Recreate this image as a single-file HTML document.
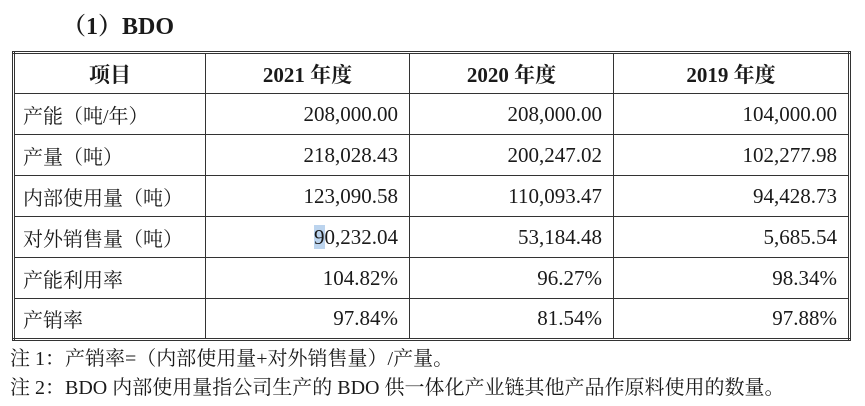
<!DOCTYPE html>
<html><head><meta charset="utf-8"><style>
body{margin:0;width:865px;height:406px;background:#fff;position:relative;overflow:hidden;font-family:"Liberation Serif","Noto Serif CJK SC",serif;color:#1a1a1a}
#title{position:absolute;left:62px;top:6px;font-size:24px;font-weight:bold;font-family:"Liberation Serif","Noto Serif CJK SC",serif}
table{position:absolute;left:12px;top:51px;border-collapse:collapse;border:3px double #333;table-layout:fixed}
td,th{border:1px solid #333;height:41px;padding:0 11px;font-size:21px;font-weight:normal;box-sizing:border-box}
th{font-weight:bold;text-align:center;font-size:21px}
td{text-align:right}
td.l{text-align:left;padding-left:8px;font-family:"Liberation Serif","Noto Serif CJK SC",serif;font-size:20px}
.hl{background:#bcd4ee}
.note{position:absolute;left:10px;font-size:20px;font-family:"Liberation Serif","Noto Serif CJK SC",serif;white-space:nowrap}
</style></head><body>
<div id="title">（1）BDO</div>
<table>
<colgroup><col style="width:192px"><col style="width:204px"><col style="width:204px"><col style="width:236px"></colgroup>
<tr><th>项目</th><th>2021 年度</th><th>2020 年度</th><th>2019 年度</th></tr>
<tr><td class="l">产能（吨/年）</td><td>208,000.00</td><td>208,000.00</td><td>104,000.00</td></tr>
<tr><td class="l">产量（吨）</td><td>218,028.43</td><td>200,247.02</td><td>102,277.98</td></tr>
<tr><td class="l">内部使用量（吨）</td><td>123,090.58</td><td>110,093.47</td><td>94,428.73</td></tr>
<tr><td class="l">对外销售量（吨）</td><td><span class="hl">9</span>0,232.04</td><td>53,184.48</td><td>5,685.54</td></tr>
<tr><td class="l">产能利用率</td><td>104.82%</td><td>96.27%</td><td>98.34%</td></tr>
<tr><td class="l">产销率</td><td>97.84%</td><td>81.54%</td><td>97.88%</td></tr>
</table>
<div class="note" style="top:342px">注 1：产销率=（内部使用量+对外销售量）/产量。</div>
<div class="note" style="top:371px">注 2：BDO 内部使用量指公司生产的 BDO 供一体化产业链其他产品作原料使用的数量。</div>
</body></html>
